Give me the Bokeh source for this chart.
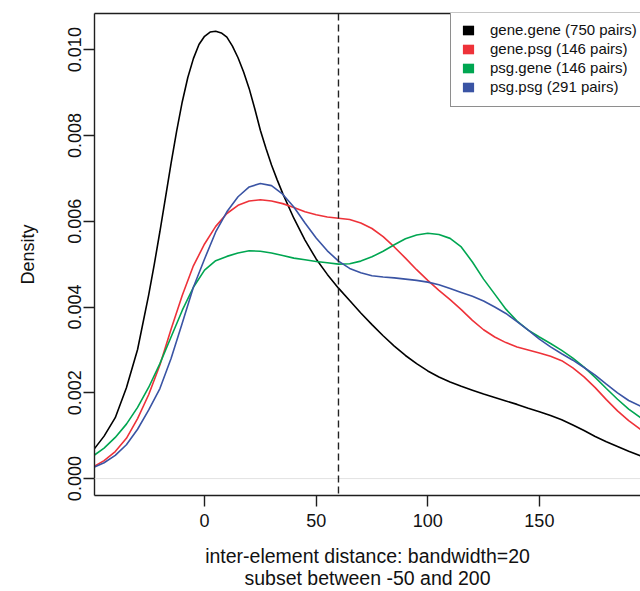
from bokeh.plotting import figure
from bokeh.models import (Range1d, FixedTicker, PrintfTickFormatter, Span,
                          Legend, LegendItem, LinearAxis)
from bokeh.embed import file_html
from bokeh.resources import INLINE

# ---------------- data ----------------
x_lo, x_hi = -49.3, 195.3
y_lo, y_hi = -0.000394, 0.010842
cutoff = 60
x_ticks = [0, 50, 100, 150]
y_ticks = [0.0, 0.002, 0.004, 0.006, 0.008, 0.010]

# common distance grid for gene.psg / psg.gene / psg.psg
distance = [-49.3, -45, -40, -35, -30, -25, -20, -15, -10, -5,
            0, 5, 10, 15, 20, 25, 30, 35, 40, 45,
            50, 55, 60, 65, 70, 75, 80, 85, 90, 95,
            100, 105, 110, 115, 120, 125, 130, 135, 140, 145,
            150, 155, 160, 165, 170, 175, 180, 185, 190, 195.3]

gene_psg = [0.00029, 0.00042, 0.00063, 0.00094, 0.00140, 0.00196, 0.00265, 0.00348, 0.00427, 0.00496,
            0.00547, 0.00588, 0.00618, 0.00637, 0.00647, 0.00650, 0.00647, 0.00641, 0.00632, 0.00622,
            0.00615, 0.00610, 0.00607, 0.00604, 0.00596, 0.00583, 0.00564, 0.00540, 0.00514, 0.00487,
            0.00462, 0.00439, 0.00417, 0.00394, 0.00369, 0.00347, 0.00330, 0.00317, 0.00307, 0.00300,
            0.00293, 0.00285, 0.00275, 0.00258, 0.00237, 0.00212, 0.00184, 0.00158, 0.00135, 0.00115]

psg_gene = [0.00055, 0.00071, 0.00096, 0.00127, 0.00166, 0.00213, 0.00268, 0.00330, 0.00392, 0.00446,
            0.00486, 0.00508, 0.00518, 0.00526, 0.00531, 0.00530, 0.00526, 0.00520, 0.00514, 0.00510,
            0.00506, 0.00503, 0.00500, 0.00501, 0.00507, 0.00517, 0.00530, 0.00545, 0.00559, 0.00568,
            0.00572, 0.00569, 0.00560, 0.00540, 0.00505, 0.00465, 0.00430, 0.00395, 0.00367, 0.00346,
            0.00330, 0.00315, 0.00299, 0.00281, 0.00260, 0.00236, 0.00210, 0.00185, 0.00162, 0.00142]

psg_psg = [0.00027, 0.00037, 0.00054, 0.00079, 0.00115, 0.00160, 0.00210, 0.00280, 0.00362, 0.00446,
           0.00512, 0.00575, 0.00622, 0.00657, 0.00680, 0.00688, 0.00683, 0.00663, 0.00633, 0.00596,
           0.00561, 0.00531, 0.00507, 0.00490, 0.00480, 0.00473, 0.00470, 0.00468, 0.00465, 0.00462,
           0.00458, 0.00452, 0.00443, 0.00434, 0.00425, 0.00414, 0.00400, 0.00385, 0.00366, 0.00346,
           0.00325, 0.00307, 0.00291, 0.00276, 0.00259, 0.00241, 0.00220, 0.00200, 0.00182, 0.00169]

# gene.gene read more densely around its sharp peak
gene_gene_x = [-49.3, -45, -40, -35, -30, -25, -22.5, -20, -17.5, -15, -12.5, -10, -7.5, -5, -2.5,
               0, 2.5, 5, 7.5, 10, 12.5, 15, 17.5, 20, 22.5, 25, 27.5, 30, 32.5, 35,
               40, 45, 50, 55, 60, 65, 70, 75, 80, 85, 90, 95, 100, 105, 110, 115, 120, 125,
               130, 135, 140, 145, 150, 155, 160, 165, 170, 175, 180, 185, 190, 195.3]
gene_gene = [0.00070, 0.00099, 0.00142, 0.00212, 0.00301, 0.00429, 0.00500, 0.00576, 0.00655, 0.00735,
             0.00810, 0.00878, 0.00935, 0.00979, 0.01012, 0.01031, 0.01041, 0.01043, 0.01039, 0.01029,
             0.01008, 0.00981, 0.00948, 0.00909, 0.00862, 0.00812, 0.00770, 0.00731, 0.00697, 0.00665,
             0.00607, 0.00556, 0.00512, 0.00476, 0.00444, 0.00415, 0.00386, 0.00359, 0.00333, 0.00309,
             0.00287, 0.00268, 0.00251, 0.00237, 0.00225, 0.00215, 0.00206, 0.00197, 0.00189, 0.00181,
             0.00173, 0.00164, 0.00156, 0.00147, 0.00137, 0.00125, 0.00112, 0.00098, 0.00086, 0.00075,
             0.00064, 0.00053]

series_labels = ["gene.gene (750 pairs)", "gene.psg (146 pairs)",
                 "psg.gene (146 pairs)", "psg.psg (291 pairs)"]
series_colors = ["#000000", "#EE3239", "#00A651", "#3A54A4"]
series_x = [gene_gene_x, distance, distance, distance]
series_y = [gene_gene, gene_psg, psg_gene, psg_psg]

x_title_1 = "inter-element distance: bandwidth=20"
x_title_2 = "subset between -50 and 200"
y_title = "Density"

# ---------------- figure ----------------
FONT = "Liberation Sans"
BOX = "#1e1e1e"
TXT = "#111111"

p = figure(width=640, height=591, output_backend="svg", toolbar_location=None,
           x_range=Range1d(x_lo, x_hi), y_range=Range1d(y_lo, y_hi),
           min_border_left=94, min_border_right=0, min_border_top=13, min_border_bottom=94)
p.grid.visible = False
p.outline_line_color = None
p.background_fill_color = "white"
p.border_fill_color = "white"

for ax in (p.xaxis[0], p.yaxis[0]):
    ax.axis_line_color = BOX
    ax.axis_line_width = 1.4
    ax.major_tick_line_color = BOX
    ax.major_tick_line_width = 1.4
    ax.major_tick_in = 0
    ax.major_tick_out = 11
    ax.minor_tick_line_color = None
    ax.major_label_text_font = FONT
    ax.major_label_text_font_size = "18px"
    ax.major_label_text_color = TXT
    ax.axis_label_text_font = FONT
    ax.axis_label_text_font_style = "normal"
    ax.axis_label_text_color = TXT

xa = p.xaxis[0]
xa.ticker = FixedTicker(ticks=x_ticks)
xa.major_label_standoff = 7
xa.axis_label = x_title_1 + "\n" + x_title_2
xa.axis_label_standoff = 15
xa.axis_label_text_font_size = "19.5px"
xa.axis_label_text_line_height = 1.0

ya = p.yaxis[0]
ya.ticker = FixedTicker(ticks=y_ticks)
ya.formatter = PrintfTickFormatter(format="%.3f")
ya.major_label_orientation = "vertical"
ya.major_label_standoff = 2
ya.axis_label = y_title
ya.axis_label_standoff = 28
ya.axis_label_text_font_size = "18px"

top_axis = LinearAxis(axis_line_color=BOX, axis_line_width=1.4, major_tick_line_color=None,
                      minor_tick_line_color=None, major_label_text_font_size="0px",
                      ticker=FixedTicker(ticks=[]))
p.add_layout(top_axis, "above")

# zero line and cutoff
p.add_layout(Span(location=0, dimension="width", line_color="#e2e2e2", line_width=1))
p.add_layout(Span(location=cutoff, dimension="height", line_color="#222222",
                  line_width=1.4, line_dash="7 4"))

for xs, ys, c in zip(series_x, series_y, series_colors):
    p.line(xs, ys, line_color=c, line_width=1.6)

# legend with filled squares (hidden area renderers supply the swatches)
items = []
for xs, ys, lab, c in zip(series_x, series_y, series_labels, series_colors):
    r = p.varea(x=xs, y1=0, y2=ys, fill_color=c, fill_alpha=1.0, visible=False)
    items.append(LegendItem(label=lab, renderers=[r]))

leg = Legend(items=items, location=(356, 484 - 96), padding=10, spacing=0,
             label_height=19, glyph_height=12, glyph_width=14, label_standoff=15,
             label_text_font=FONT, label_text_font_size="15px", label_text_color=TXT,
             border_line_color=BOX, border_line_width=1.2, background_fill_alpha=1.0,
             inactive_fill_alpha=0.0, margin=0)
p.add_layout(leg, "center")

open("out.html", "w").write(file_html(p, INLINE))
